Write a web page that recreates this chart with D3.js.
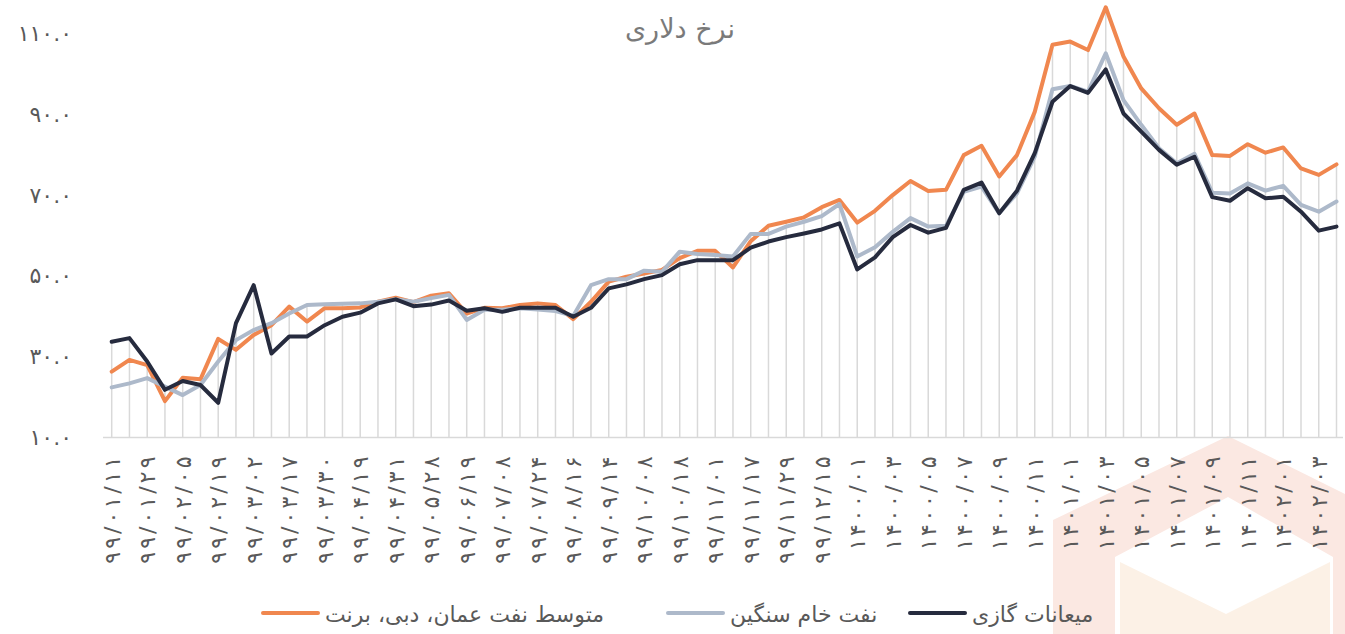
<!DOCTYPE html>
<html>
<head>
	<meta charset="utf-8">
	<script src="https://d3js.org/d3.v7.min.js"></script>
	<style>
		body { margin: 0; background: #fff; }
		text { font-family: "DejaVu Sans", sans-serif; }
	</style>
</head>
<body>
	<div id="my_dataviz"></div>
	<script>

	// chart size
	const width = 1345
	const height = 634

	// dates (yy/mm/dd for 1399, then monthly from 1400)
	const categories = [
		"99/01/11", "99/01/20", "99/01/29", "99/02/01", "99/02/05", "99/02/12", "99/02/19", "99/02/26",
		"99/03/02", "99/03/10", "99/03/17", "99/03/24", "99/03/30", "99/04/09", "99/04/19", "99/04/25",
		"99/04/31", "99/05/14", "99/05/28", "99/06/05", "99/06/19", "99/06/29", "99/07/08", "99/07/16",
		"99/07/24", "99/08/05", "99/08/16", "99/08/30", "99/09/14", "99/09/28", "99/10/08", "99/10/13",
		"99/10/18", "99/10/25", "99/11/01", "99/11/08", "99/11/17", "99/11/22", "99/11/29", "99/12/07",
		"99/12/15", "99/12/25",
		"1400/01", "1400/02", "1400/03", "1400/04", "1400/05", "1400/06", "1400/07", "1400/08",
		"1400/09", "1400/10", "1400/11", "1400/12",
		"1401/01", "1401/02", "1401/03", "1401/04", "1401/05", "1401/06", "1401/07", "1401/08",
		"1401/09", "1401/10", "1401/11", "1401/12",
		"1402/01", "1402/02", "1402/03", "1402/04"
	]

	// average of Oman, Dubai, Brent
	const avgOil = [
		26.3, 29.2, 27.9, 19.0, 24.8, 24.4, 34.4, 31.7, 35.4, 37.8,
		42.4, 38.7, 42.0, 42.0, 42.2, 43.6, 44.6, 43.5, 45.1, 45.7,
		40.7, 42.1, 42.0, 42.8, 43.2, 42.8, 39.3, 43.6, 48.6, 49.8,
		50.6, 51.5, 54.4, 56.2, 56.2, 52.1, 58.6, 62.4, 63.4, 64.5,
		67.0, 68.8, 63.2, 66.1, 70.0, 73.5, 71.0, 71.3, 79.9, 82.2,
		74.6, 79.9, 90.6, 107.2, 108.0, 105.9, 116.5, 104.3, 96.4, 91.5,
		87.4, 90.2, 79.9, 79.7, 82.6, 80.5, 81.8, 76.6, 75.0, 77.6
	]

	// heavy crude
	const heavyCrude = [
		22.4, 23.4, 24.7, 22.6, 20.5, 23.0, 28.8, 34.1, 36.6, 38.3,
		40.7, 42.8, 43.0, 43.1, 43.2, 43.6, 44.2, 43.6, 44.5, 45.3,
		39.1, 41.6, 41.6, 42.0, 41.7, 41.3, 40.1, 47.7, 49.2, 49.2,
		51.3, 51.0, 56.0, 55.4, 55.2, 54.8, 60.4, 60.4, 62.2, 63.4,
		64.8, 67.8, 54.8, 57.1, 60.9, 64.3, 62.2, 62.4, 70.8, 72.1,
		65.5, 70.4, 79.5, 96.2, 97.0, 95.6, 105.1, 93.5, 87.4, 81.6,
		77.9, 80.2, 70.6, 70.4, 72.9, 71.1, 72.3, 67.6, 65.9, 68.4
	]

	// gas condensate
	const condensate = [
		33.7, 34.6, 28.8, 21.8, 24.0, 23.0, 18.6, 38.3, 47.7, 30.8,
		35.0, 35.0, 37.8, 39.9, 40.9, 43.2, 44.2, 42.5, 42.9, 43.9,
		41.4, 42.0, 41.1, 42.1, 42.1, 42.1, 39.9, 42.1, 46.9, 47.9,
		49.2, 50.2, 52.9, 53.9, 53.9, 53.9, 57.0, 58.5, 59.6, 60.5,
		61.5, 63.0, 51.6, 54.6, 59.6, 62.6, 60.7, 61.9, 71.3, 73.1,
		65.5, 71.1, 80.4, 93.1, 97.0, 95.3, 101.1, 90.2, 85.7, 81.2,
		77.5, 79.5, 69.5, 68.6, 71.7, 69.2, 69.6, 65.9, 61.2, 62.2
	]

	const yTicks = [10, 30, 50, 70, 90, 110]
	const title = "نرخ دلاری"

	// drawn in this order, last one on top
	const series = [
		{ name: "متوسط نفت عمان، دبی، برنت", values: avgOil, color: "#F0874F" },
		{ name: "نفت خام سنگین", values: heavyCrude, color: "#ADB9CA" },
		{ name: "میعانات گازی", values: condensate, color: "#262B3E" }
	]

	// latin digits -> persian digits
	const fa = s => String(s).replace(/\d/g, d => "۰۱۲۳۴۵۶۷۸۹"[d])

	const svg = d3.select("#my_dataviz")
	  .append("svg")
	    .attr("width", width)
	    .attr("height", height)

	svg.append("rect").attr("width", width).attr("height", height).attr("fill", "#fff")

	// faint logo in the lower right corner
	const logo = svg.append("g")
	logo.append("polygon")
	    .attr("points", "1053,520 1228,436 1345,494 1345,634 1053,634")
	    .attr("fill", "#FBE8E2")
	logo.append("polygon")
	    .attr("points", "1115,557 1228,497 1333,557 1333,634 1115,634")
	    .attr("fill", "#fff")
	logo.append("polygon")
	    .attr("points", "1120,562 1226,614 1330,562 1330,634 1120,634")
	    .attr("fill", "#FCF1E6")

	// scales
	const x = d3.scalePoint()
	    .domain(categories)
	    .range([111.7, 1336.5])

	const y = d3.scaleLinear()
	    .domain([10, 110])
	    .range([437.5, 33.5])

	// title
	svg.append("text")
	    .attr("x", 680)
	    .attr("y", 38)
	    .attr("text-anchor", "middle")
	    .style("font-size", "27px")
	    .style("fill", "#7a7a7a")
	    .text(title)

	// y axis labels (no line)
	const yAxis = svg.append("g")
	    .attr("transform", "translate(72,0)")
	    .call(d3.axisLeft(y).tickValues(yTicks).tickSize(0).tickPadding(0)
	      .tickFormat(d => fa(d3.format(".1f")(d))))
	yAxis.select(".domain").remove()
	yAxis.selectAll("text")
	    .style("font-size", "22px")
	    .style("letter-spacing", "6px")
	    .style("fill", "#595959")
	    .attr("direction", "ltr")

	// drop lines from the highest point to the axis
	svg.append("g")
	  .selectAll("line")
	  .data(categories)
	  .join("line")
	    .attr("x1", d => x(d))
	    .attr("x2", d => x(d))
	    .attr("y1", (d, i) => y(d3.max(series, s => s.values[i])))
	    .attr("y2", y(10))
	    .attr("stroke", "#D9D9D9")
	    .attr("stroke-width", 1.5)

	// category axis
	const xAxis = svg.append("g")
	    .attr("transform", `translate(0,${y(10)})`)
	    .call(d3.axisBottom(x).tickSize(0).tickPadding(0)
	      .tickValues(categories.filter((d, i) => i % 2 === 0))
	      .tickFormat(fa))
	xAxis.select(".domain")
	    .attr("d", `M103,0H1343`)
	    .attr("stroke", "#D9D9D9")
	    .attr("stroke-width", 1.5)
	xAxis.selectAll("text")
	    .attr("transform", "translate(0,19) rotate(-90)")
	    .attr("x", 0)
	    .attr("y", 0)
	    .attr("dy", "0.35em")
	    .attr("text-anchor", "end")
	    .attr("direction", "ltr")
	    .attr("textLength", d => d.length * 13.4)
	    .attr("lengthAdjust", "spacing")
	    .style("font-size", "22px")
	    .style("fill", "#595959")

	// lines
	const line = d3.line()
	    .x((d, i) => x(categories[i]))
	    .y(d => y(d))

	svg.append("g")
	  .selectAll("path")
	  .data(series)
	  .join("path")
	    .attr("d", d => line(d.values))
	    .attr("fill", "none")
	    .attr("stroke", d => d.color)
	    .attr("stroke-width", 4)
	    .attr("stroke-linejoin", "round")
	    .attr("stroke-linecap", "round")

	// legend
	const legendPos = [263, 668, 910]
	const legend = svg.append("g")
	  .selectAll("g")
	  .data(series)
	  .join("g")
	    .attr("transform", (d, i) => `translate(${legendPos[i]},613)`)
	legend.append("line")
	    .attr("x1", 0).attr("x2", 55)
	    .attr("stroke", d => d.color)
	    .attr("stroke-width", 4)
	    .attr("stroke-linecap", "round")
	legend.append("text")
	    .attr("x", 62)
	    .attr("y", 9)
	    .style("font-size", "22px")
	    .style("fill", "#595959")
	    .text(d => d.name)

	</script>
</body>
</html>
